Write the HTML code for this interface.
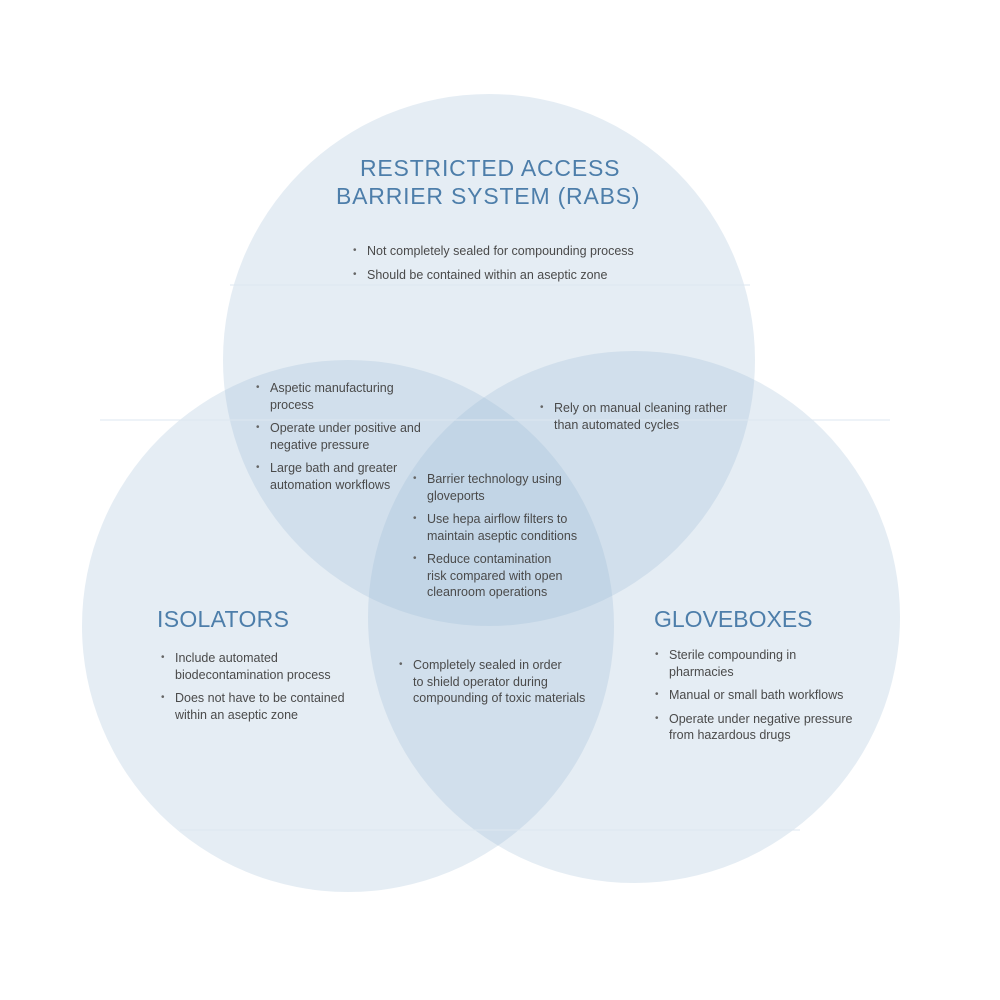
<!DOCTYPE html>
<html><head><style>
body{margin:0;background:#fff}
#c{position:relative;width:1000px;height:1000px;overflow:hidden;font-family:"Liberation Sans",sans-serif}
svg{position:absolute;left:0;top:0}
.t{position:absolute;color:#4d7eaa;font-size:23px;letter-spacing:0.8px;white-space:nowrap}
.b{position:absolute;color:#4a4a4a;font-size:12.5px;line-height:16.5px;margin:0;padding:0;list-style:none;white-space:nowrap}
.b li{position:relative;padding-left:14px;margin-bottom:7px}
.b li:before{content:"•";position:absolute;left:0;font-size:10px;color:#666}
</style></head><body><div id="c">
<svg width="1000" height="1000">
<g fill="rgb(150,182,212)" fill-opacity="0.25">
<circle cx="489" cy="360" r="266"/>
<circle cx="348" cy="626" r="266"/>
<circle cx="634" cy="617" r="266"/>
</g>
<g stroke="#dde7f0" stroke-width="1">
<line x1="230" y1="285" x2="750" y2="285"/>
<line x1="100" y1="420" x2="890" y2="420"/>
<line x1="180" y1="830" x2="800" y2="830"/>
</g>
</svg>
<div class="t" style="left:360px;top:155px">RESTRICTED ACCESS</div>
<div class="t" style="left:336px;top:183px">BARRIER SYSTEM (RABS)</div>
<div class="t" style="left:157px;top:606px;letter-spacing:0.3px">ISOLATORS</div>
<div class="t" style="left:654px;top:606px;letter-spacing:0px">GLOVEBOXES</div>
<ul class="b" style="left:353px;top:243px"><li>Not completely sealed for compounding process</li><li>Should be contained within an aseptic zone</li></ul>
<ul class="b" style="left:256px;top:380px"><li>Aspetic manufacturing<br>process</li><li>Operate under positive and<br>negative pressure</li><li>Large bath and greater<br>automation workflows</li></ul>
<ul class="b" style="left:540px;top:400px"><li>Rely on manual cleaning rather<br>than automated cycles</li></ul>
<ul class="b" style="left:413px;top:471px"><li>Barrier technology using<br>gloveports</li><li>Use hepa airflow filters to<br>maintain aseptic conditions</li><li>Reduce contamination<br>risk compared with open<br>cleanroom operations</li></ul>
<ul class="b" style="left:161px;top:650px"><li>Include automated<br>biodecontamination process</li><li>Does not have to be contained<br>within an aseptic zone</li></ul>
<ul class="b" style="left:399px;top:657px"><li>Completely sealed in order<br>to shield operator during<br>compounding of toxic materials</li></ul>
<ul class="b" style="left:655px;top:647px"><li>Sterile compounding in<br>pharmacies</li><li>Manual or small bath workflows</li><li>Operate under negative pressure<br>from hazardous drugs</li></ul>
</div></body></html>
